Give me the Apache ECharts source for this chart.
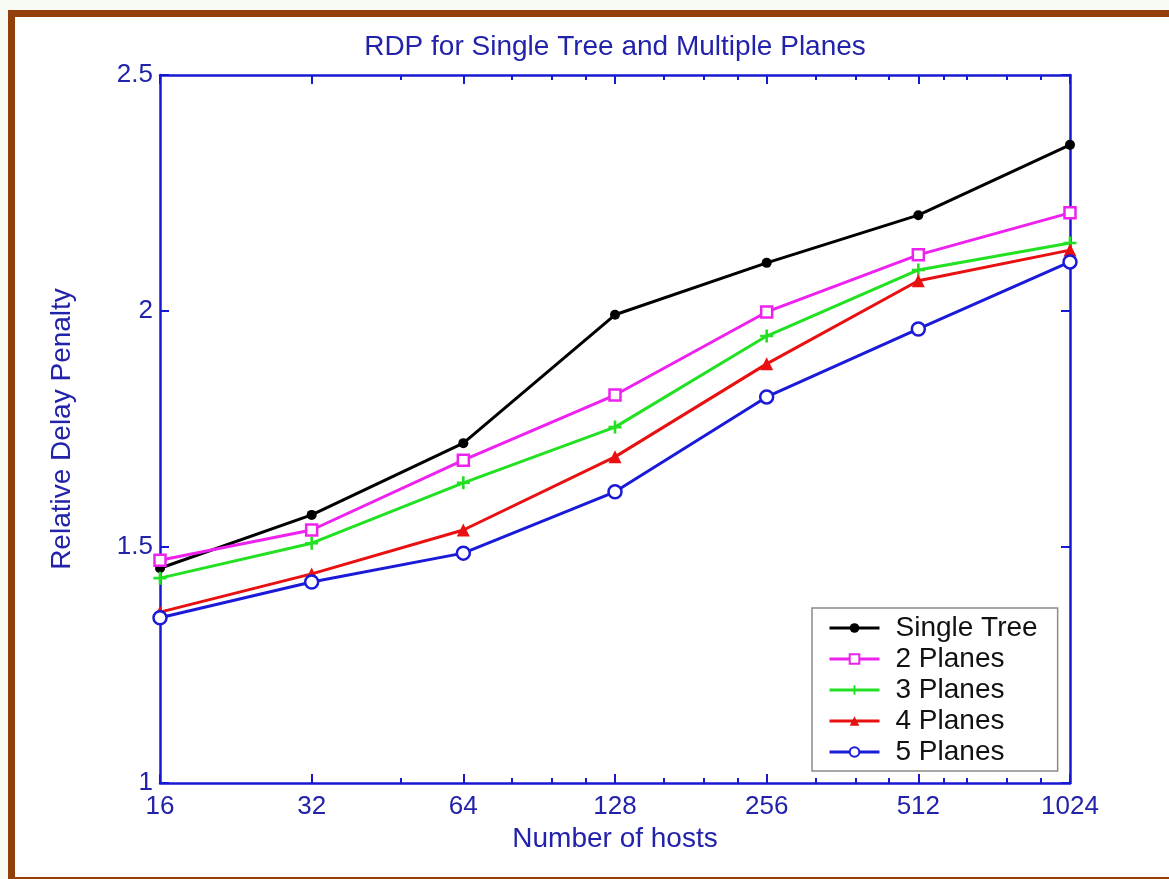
<!DOCTYPE html>
<html>
<head>
<meta charset="utf-8">
<title>RDP for Single Tree and Multiple Planes</title>
<script src="https://cdn.jsdelivr.net/npm/echarts@6/dist/echarts.min.js"></script>
<style>
  html, body { margin: 0; padding: 0; background: #f7fbf4; }
  .frame {
    position: absolute; left: 8px; top: 10px; width: 1180px; height: 860px;
    background: #ffffff;
    border-top: 7px solid #933f0c; border-left: 7px solid #933f0c; border-bottom: 7px solid #933f0c;
  }
  #chart { position: absolute; left: 0; top: 0; width: 1169px; height: 879px; }
</style>
</head>
<body>
<div class="frame"></div>
<div id="chart"></div>
<script>
const hosts = [16, 32, 64, 128, 256, 512, 1024];
const singleTree = [1.455, 1.568, 1.720, 1.992, 2.102, 2.203, 2.352];
const planes2 = [1.472, 1.536, 1.684, 1.822, 1.998, 2.119, 2.208];
const planes3 = [1.434, 1.508, 1.636, 1.754, 1.947, 2.087, 2.144];
const planes4 = [1.362, 1.443, 1.536, 1.691, 1.888, 2.064, 2.129];
const planes5 = [1.350, 1.426, 1.487, 1.617, 1.818, 1.962, 2.104];
const yTicks = [1, 1.5, 2, 2.5];
const minorHosts = [48, 80, 96, 112, 160, 192, 224, 320, 384, 448, 576, 640, 768, 896];

const axisBlue = '#1818d0';
const textBlue = '#2222aa';
const font = 'Liberation Sans';
const plus = 'path://M4,0H6V4H10V6H6V10H4V6H0V4H4Z';

const pairs = vals => hosts.map((h, i) => [h, vals[i]]);

const makeSeries = (name, vals, color, symbol, size, filled) => ({
  name,
  type: 'line',
  data: pairs(vals),
  symbol,
  symbolSize: size,
  lineStyle: { color, width: 3 },
  itemStyle: filled
    ? { color, borderColor: color, borderWidth: 0 }
    : { color: '#ffffff', borderColor: color, borderWidth: 2.5 },
  z: 3,
});

const chart = echarts.init(document.getElementById('chart'));

const xBase = {
  type: 'log',
  logBase: 2,
  min: 16,
  max: 1024,
  axisLine: { lineStyle: { color: axisBlue, width: 2.5 } },
  axisTick: { inside: true, length: 9, lineStyle: { color: axisBlue, width: 2 } },
  splitLine: { show: false },
  minorTick: { show: false },
};

// minor ticks only, drawn on their own axes
const xMinor = position => ({
  ...xBase,
  position,
  axisLine: { show: false },
  axisLabel: { show: false },
  axisTick: {
    inside: true, length: 5, customValues: minorHosts,
    lineStyle: { color: axisBlue, width: 2 },
  },
});

const yBase = {
  type: 'value',
  min: yTicks[0],
  max: yTicks[yTicks.length - 1],
  interval: 0.5,
  axisLine: { show: true, lineStyle: { color: axisBlue, width: 2.5 } },
  axisTick: { show: true, inside: true, length: 9, lineStyle: { color: axisBlue, width: 2 } },
  splitLine: { show: false },
};

chart.setOption({
  backgroundColor: 'transparent',
  animation: false,
  title: {
    text: 'RDP for Single Tree and Multiple Planes',
    left: 610,
    top: 28,
    textAlign: 'center',
    textStyle: { color: textBlue, fontSize: 28, fontWeight: 'normal', fontFamily: font },
  },
  grid: { left: 160, right: 99, top: 75, bottom: 96, containLabel: false },
  xAxis: [
    {
      ...xBase,
      position: 'bottom',
      name: 'Number of hosts',
      nameLocation: 'middle',
      nameGap: 39,
      nameTextStyle: { color: textBlue, fontSize: 28, fontFamily: font },
      axisLabel: {
        color: textBlue, fontSize: 26, margin: 11, fontFamily: font,
        formatter: v => String(Math.round(v)),
      },
    },
    { ...xBase, position: 'top', axisLabel: { show: false } },
    xMinor('bottom'),
    xMinor('top'),
  ],
  yAxis: [
    {
      ...yBase,
      position: 'left',
      name: 'Relative Delay Penalty',
      nameLocation: 'middle',
      nameGap: 84,
      nameTextStyle: { color: textBlue, fontSize: 28, fontFamily: font },
      axisLabel: { color: textBlue, fontSize: 26, margin: 7, fontFamily: font },
    },
    { ...yBase, position: 'right', axisLabel: { show: false } },
  ],
  legend: {
    orient: 'vertical',
    left: 812,
    top: 608,
    backgroundColor: '#ffffff',
    borderColor: '#8a8a8a',
    borderWidth: 1.5,
    borderRadius: 0,
    padding: [6, 20, 5, 16],
    itemWidth: 50,
    itemHeight: 12,
    itemGap: 3,
    lineStyle: { width: 3 },
    textStyle: { color: '#111111', fontSize: 28, fontFamily: font, padding: [0, 0, 0, 11] },
    data: ['Single Tree', '2 Planes', '3 Planes', '4 Planes', '5 Planes'],
  },
  series: [
    makeSeries('Single Tree', singleTree, '#000000', 'circle', 10, true),
    makeSeries('2 Planes', planes2, '#ee22ee', 'rect', 11, false),
    makeSeries('3 Planes', planes3, '#22e022', plus, 13, true),
    makeSeries('4 Planes', planes4, '#e81010', 'triangle', 13, true),
    makeSeries('5 Planes', planes5, '#1a1ad8', 'circle', 13, false),
  ],
});
</script>
</body>
</html>
